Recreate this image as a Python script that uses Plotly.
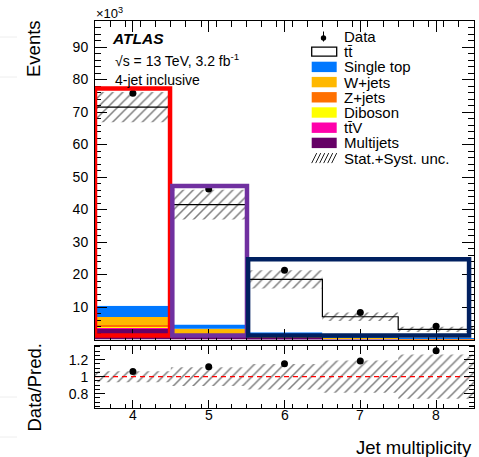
import plotly.graph_objects as go

# Jet multiplicity bins (last bin inclusive)
jet_bins = [4, 5, 6, 7, 8]
tick_labels = ["4", "5", "6", "7", "8"]

# Event yields in units of 10^3
data = [75.8, 46.3, 21.3, 8.3, 4.05]
ttbar = [61.15, 36.9, 16.3, 6.06, 2.635]
single_top = [3.4, 1.3, 0.8, 0.35, 0.17]
w_jets = [2.5, 1.6, 0.6, 0.25, 0.12]
z_jets = [0.6, 0.3, 0.15, 0.06, 0.03]
diboson = [0.1, 0.05, 0.03, 0.01, 0.005]
ttv = [0.25, 0.15, 0.12, 0.07, 0.04]
multijets = [3.5, 1.2, 0.5, 0.2, 0.1]

# Relative stat.+syst. uncertainty on the total prediction
unc_rel = [0.065, 0.11, 0.15, 0.19, 0.26]

FONT = "Liberation Sans, Arial, Helvetica, sans-serif"
W, H = 479, 457
ML, MR, MT, MB = 95, 5, 21, 49

def fx(px):
    return (px - ML) / (W - ML - MR)

def fy(py):
    return (H - MB - py) / (H - MT - MB)

# stack order bottom -> top
stack = [
    ("Multijets", multijets, "rgb(102,0,102)"),
    ("tt̄V", ttv, "rgb(255,0,170)"),
    ("Diboson", diboson, "rgb(255,255,0)"),
    ("Z+jets", z_jets, "rgb(255,112,0)"),
    ("W+jets", w_jets, "rgb(255,184,0)"),
    ("Single top", single_top, "rgb(0,120,255)"),
    ("tt̄", ttbar, "white"),
]

fig = go.Figure()

base = [0.0] * len(jet_bins)
for name, vals, col in stack:
    fig.add_trace(go.Bar(
        x=jet_bins, y=vals, base=list(base), width=1.0,
        marker=dict(color=col, line=dict(width=0)),
        name=name, showlegend=False, xaxis="x", yaxis="y"))
    base = [b + v for b, v in zip(base, vals)]
pred = base
unc_abs = [p * u for p, u in zip(pred, unc_rel)]

hatch = dict(shape="/", fgcolor="black", bgcolor="rgba(0,0,0,0)",
             size=7, solidity=0.22, fillmode="overlay")

# uncertainty band on the total prediction
fig.add_trace(go.Bar(
    x=jet_bins, y=[2 * u for u in unc_abs],
    base=[p - u for p, u in zip(pred, unc_abs)], width=1.0,
    marker=dict(color="rgba(0,0,0,0)", line=dict(width=0), pattern=hatch),
    showlegend=False, xaxis="x", yaxis="y"))

# outline of the total prediction
edges = [b - 0.5 for b in jet_bins] + [jet_bins[-1] + 0.5]
fig.add_trace(go.Scatter(
    x=edges, y=pred + [pred[-1]], mode="lines", line=dict(color="black", width=1.2, shape="hv"),
    showlegend=False, xaxis="x", yaxis="y"))

fig.add_trace(go.Scatter(
    x=jet_bins, y=data, mode="markers", marker=dict(color="black", size=7),
    showlegend=False, xaxis="x", yaxis="y"))

# ratio panel
ratio = [d / p for d, p in zip(data, pred)]
fig.add_trace(go.Bar(
    x=jet_bins, y=[2 * u for u in unc_rel], base=[1 - u for u in unc_rel], width=1.0,
    marker=dict(color="rgba(0,0,0,0)", line=dict(width=0), pattern=hatch),
    showlegend=False, xaxis="x2", yaxis="y2"))
fig.add_trace(go.Scatter(
    x=[3.5, 8.5], y=[1, 1], mode="lines", line=dict(color="red", width=1.3, dash="5px,4px"),
    showlegend=False, xaxis="x2", yaxis="y2"))
fig.add_trace(go.Scatter(
    x=jet_bins, y=ratio, mode="markers", marker=dict(color="black", size=7),
    showlegend=False, xaxis="x2", yaxis="y2"))

shapes = []
# highlighted regions
for (x0, x1, y1, col) in [(3.5, 4.49, 77.2, "rgb(255,0,0)"),
                          (4.52, 5.505, 47.2, "rgb(112,48,160)"),
                          (5.52, 8.435, 24.7, "rgb(0,32,96)")]:
    shapes.append(dict(type="rect", xref="x", yref="y", x0=x0, x1=x1, y0=1.2, y1=y1,
                       line=dict(color=col, width=4.5), fillcolor="rgba(0,0,0,0)", layer="above"))

annotations = []
# legend
row0, drow = 36.5, 15.2
lx0, lx1, ltx = 311.7, 336.7, 342
legend_rows = ["Data", "tt̄", "Single top", "W+jets", "Z+jets", "Diboson", "tt̄V", "Multijets",
               "Stat.+Syst. unc."]
swatch = {"Single top": "rgb(0,120,255)", "W+jets": "rgb(255,184,0)", "Z+jets": "rgb(255,112,0)",
          "Diboson": "rgb(255,255,0)", "tt̄V": "rgb(255,0,170)", "Multijets": "rgb(102,0,102)"}
for i, lab in enumerate(legend_rows):
    yc = row0 + drow * i
    annotations.append(dict(xref="paper", yref="paper", x=fx(ltx), y=fy(yc), text=lab,
                            showarrow=False, xanchor="left", yanchor="middle",
                            font=dict(family=FONT, size=15, color="black")))
    if lab == "Data":
        shapes.append(dict(type="line", xref="paper", yref="paper", x0=fx(323.5), x1=fx(323.5),
                           y0=fy(yc - 5), y1=fy(yc + 5), line=dict(color="black", width=1)))
        shapes.append(dict(type="circle", xref="paper", yref="paper", x0=fx(320.8), x1=fx(326.2),
                           y0=fy(yc - 2.7 + 1.5), y1=fy(yc + 2.7 + 1.5), fillcolor="black",
                           line=dict(width=0)))
    elif lab == "tt̄":
        shapes.append(dict(type="rect", xref="paper", yref="paper", x0=fx(lx0), x1=fx(lx1),
                           y0=fy(yc - 4.5), y1=fy(yc + 4.5), fillcolor="white",
                           line=dict(color="black", width=1.3)))
    elif lab in swatch:
        shapes.append(dict(type="rect", xref="paper", yref="paper", x0=fx(lx0), x1=fx(lx1),
                           y0=fy(yc - 5.2), y1=fy(yc + 5.2), fillcolor=swatch[lab],
                           line=dict(width=0)))
    else:
        for k in range(6):
            xs = lx0 + 4 * k
            shapes.append(dict(type="line", xref="paper", yref="paper", x0=fx(xs), x1=fx(xs + 5),
                               y0=fy(yc + 5), y1=fy(yc - 5),
                               line=dict(color="rgb(30,30,30)", width=1)))

texts = [
    (110, 38, "<b><i>ATLAS</i></b>", 15.5),
    (113, 60, "√s = 13 TeV, 3.2 fb<sup>-1</sup>", 14),
    (113, 80, "4-jet inclusive", 14),
]
for x, y, t, s in texts:
    annotations.append(dict(xref="paper", yref="paper", x=fx(x), y=fy(y), text=t, showarrow=False,
                            xanchor="left", yanchor="middle",
                            font=dict(family=FONT, size=s, color="black")))
annotations.append(dict(xref="paper", yref="paper", x=fx(94), y=fy(13), text="×10<sup>3</sup>",
                        showarrow=False, xanchor="left", yanchor="middle",
                        font=dict(family=FONT, size=13, color="black")))
annotations.append(dict(xref="paper", yref="paper", x=fx(33.5), y=fy(18), text="Events",
                        textangle=-90, showarrow=False, xanchor="center", yanchor="top",
                        font=dict(family=FONT, size=18.5, color="black")))
annotations.append(dict(xref="paper", yref="paper", x=fx(34), y=fy(387.5), text="Data/Pred.",
                        textangle=-90, showarrow=False, xanchor="center", yanchor="middle",
                        font=dict(family=FONT, size=18.5, color="black")))
annotations.append(dict(xref="paper", yref="paper", x=fx(474), y=fy(447), text="Jet multiplicity",
                        showarrow=False, xanchor="right", yanchor="middle",
                        font=dict(family=FONT, size=18.5, color="black")))

# x tick labels of the ratio panel, set close to the frame
for xv, lab in zip(jet_bins, tick_labels):
    annotations.append(dict(xref="x2", yref="paper", x=xv, y=fy(415), text=lab,
                            showarrow=False, xanchor="center", yanchor="middle",
                            font=dict(family=FONT, size=14, color="black")))

# faint page rules at the left edge
for yy in [37, 77, 397, 437]:
    shapes.append(dict(type="line", xref="paper", yref="paper", x0=fx(0), x1=fx(17),
                       y0=fy(yy), y1=fy(yy), line=dict(color="rgb(238,238,238)", width=1)))

axis_common = dict(showline=True, linecolor="black", linewidth=1, mirror="allticks",
                   ticks="inside", tickcolor="black", showgrid=False, zeroline=False,
                   tickfont=dict(family=FONT, size=14, color="black"))

fig.update_layout(
    width=W, height=H, margin=dict(l=ML, r=MR, t=MT, b=MB),
    paper_bgcolor="white", plot_bgcolor="white", barmode="overlay", showlegend=False,
    xaxis=dict(domain=[0, 1], range=[3.5, 8.5], anchor="y", showticklabels=False,
               tickvals=jet_bins, ticklen=11,
               minor=dict(dtick=0.2, tick0=3.5, ticklen=6, ticks="inside", tickcolor="black"),
               **axis_common),
    yaxis=dict(domain=[fy(339.5), 1], range=[0, 98], anchor="x",
               tickvals=[10, 20, 30, 40, 50, 60, 70, 80, 90], ticklen=12,
               minor=dict(dtick=2, tick0=0, ticklen=6, ticks="inside", tickcolor="black"),
               ticklabelstandoff=3, **axis_common),
    xaxis2=dict(domain=[0, 1], range=[3.5, 8.5], anchor="y2", tickvals=jet_bins,
                showticklabels=False, ticklen=8,
                minor=dict(dtick=0.2, tick0=3.5, ticklen=4, ticks="inside", tickcolor="black"),
                **axis_common),
    yaxis2=dict(domain=[0, fy(345.5)], range=[0.632, 1.367], anchor="x2",
                tickvals=[0.8, 1.0, 1.2], ticktext=["0.8", "1", "1.2"], ticklen=10,
                minor=dict(dtick=0.05, tick0=0, ticklen=5, ticks="inside", tickcolor="black"),
                ticklabelstandoff=3, **axis_common),
    shapes=shapes, annotations=annotations,
)

fig.write_html("out.html")
